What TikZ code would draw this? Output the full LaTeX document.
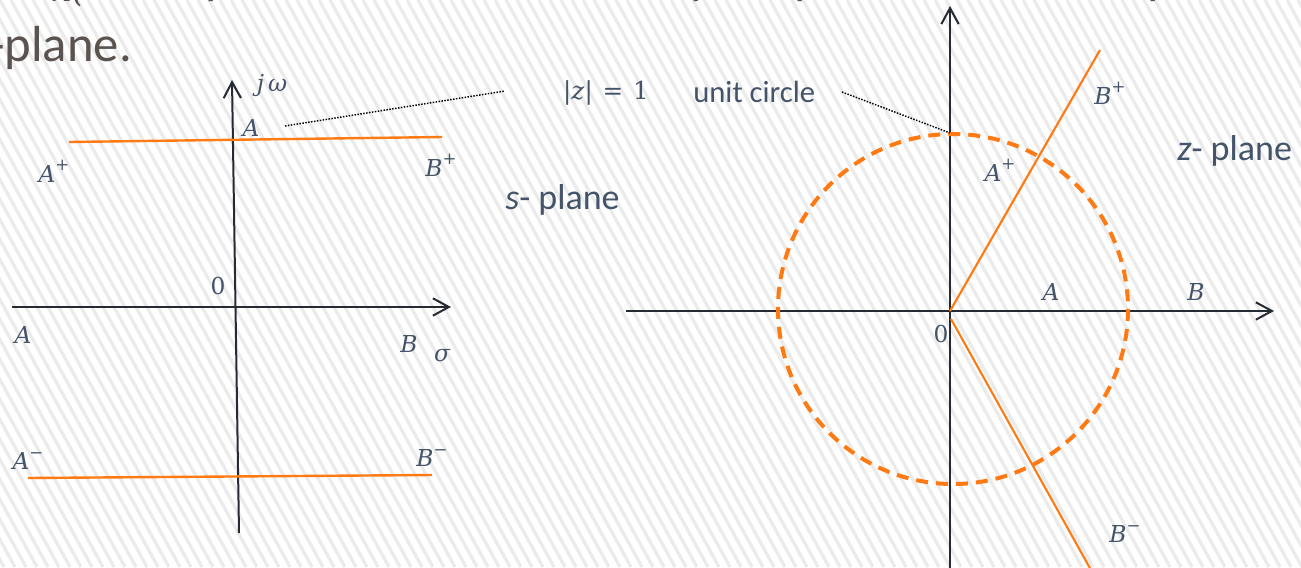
\documentclass[tikz,border=0pt]{standalone}
\usepackage{fontspec}
\setmainfont{Carlito}
\newfontfamily\mathlike{DejaVu Serif}
\usetikzlibrary{arrows.meta}
\definecolor{axiscol}{HTML}{262B33}
\definecolor{orng}{HTML}{FF7A12}
\definecolor{lbl}{HTML}{44546A}
\definecolor{titlecol}{HTML}{5B5350}
\definecolor{stripecol}{HTML}{EBEBEB}
\newcommand{\mysup}[1]{\raisebox{0.5em}{\fontsize{12.5}{13}\selectfont\upshape #1}}
\tikzset{
  stripe/.style={draw=stripecol, line width=2.4pt},
  axis/.style={draw=axiscol, line width=1.5pt},
  axisarrow/.style={axis, -{Straight Barb[length=12pt,width=13pt,line width=1.5pt]}},
  orangeline/.style={draw=orng, line width=1.8pt},
  unitcircle/.style={draw=orng, line width=3pt, dash pattern=on 9pt off 6pt},
  dotline/.style={draw=black, line width=1.1pt, dash pattern=on 1.1pt off 1.1pt},
  mlabel/.style={text=lbl, font=\mathlike\itshape\fontsize{17.5}{20}\selectfont, inner sep=0pt},
  uplabel/.style={text=lbl, font=\mathlike\upshape\fontsize{17.5}{20}\selectfont, inner sep=0pt},
  slabel/.style={text=lbl, font=\fontsize{27}{30}\selectfont, inner sep=0pt, anchor=base west},
  fragment/.style={text=titlecol, font=\fontsize{38}{42}\selectfont, inner sep=0pt, anchor=base west},
}
\begin{document}
\begin{tikzpicture}[x=0.75pt,y=-0.75pt]
\useasboundingbox (0,0) rectangle (1301,567);
\clip (0,0) rectangle (1301,567);
\fill[white] (0,0) rectangle (1301,567);
\foreach \i in {-30,...,120} \draw[stripe] (\i*11,0) -- ++(312,567);

% title fragments (line above is cut off)
\node[fragment] (title) at (-11,62) {-plane.};
\node[fragment, font=\mathlike\itshape\fontsize{26}{28}\selectfont] (frA) at (50,2) {n(};
\node[fragment] (frB) at (205,-6) {p};
\node[fragment] (frC) at (688,-6) {y};
\node[fragment] (frD) at (794,-6) {p};
\node[fragment] (frE) at (1147,-6) {p};

% ---------- s-plane ----------
\coordinate (jwB) at (239,533);
\coordinate (jwT) at (232,80);
\coordinate (sgL) at (12,307);
\coordinate (sgR) at (451,307);
\draw[axisarrow] (jwB) -- (jwT);
\draw[axisarrow] (sgL) -- (sgR);
\coordinate (upL) at (69,142);
\coordinate (upR) at (442,137);
\coordinate (loL) at (28,478);
\coordinate (loR) at (432,475);
\draw[orangeline] (upL) -- (upR);
\draw[orangeline] (loL) -- (loR);

\node[mlabel] (jw) at (272,86) {j\,ω};
\node[mlabel] (Atop) at (251,128) {A};
\node[mlabel] (Ap) at (54,171) {A\mysup{+}};
\node[mlabel] (Bp) at (441,165) {B\mysup{+}};
\node[uplabel] (zero1) at (218,286) {0};
\node[mlabel] (Al) at (23,335) {A};
\node[mlabel] (Br) at (409,344) {B};
\node[mlabel] (sig) at (442,356) {σ};
\node[mlabel] (Am) at (28,461) {A\mysup{−}};
\node[mlabel] (Bm) at (432,458) {B\mysup{−}};

% ---------- middle labels ----------
\node[uplabel, font=\mathlike\upshape\fontsize{18.5}{21}\selectfont] (zeq) at (606,93) {|\textit{z}|\hspace{0.4em}=\hspace{0.4em}1};
\node[text=lbl, font=\fontsize{23}{26}\selectfont, inner sep=0pt, anchor=base west] (uc) at (693,102) {unit circle};
\node[slabel] (splane) at (505,209) {\textit{s}- plane};
\node[slabel] (zplane) at (1177,160) {\textit{z}- plane};

\coordinate (d1s) at (285,126);
\coordinate (d1e) at (505,91);
\draw[dotline] (d1s) -- (d1e);

% ---------- z-plane ----------
\coordinate (O) at (950,311);
\coordinate (imB) at (950,570);
\coordinate (imT) at (950,6);
\coordinate (reL) at (626,311);
\coordinate (reR) at (1274,311);
\draw[axisarrow] (imB) -- (imT);
\draw[axisarrow] (reL) -- (reR);
\draw[unitcircle] (953,309) circle (175);
\coordinate (Bpend) at (1100,50);
\coordinate (Bmst) at (951,319);
\coordinate (Bmend) at (1091,570);
\draw[orangeline, line width=1.6pt] (O) -- (Bpend);
\draw[orangeline, line width=1.6pt] (Bmst) -- (Bmend);
\coordinate (d2s) at (842,92);
\coordinate (d2e) at (950,133);
\draw[dotline] (d2s) -- (d2e);

\node[mlabel] (zBp) at (1110,93) {B\mysup{+}};
\node[mlabel] (zAp) at (1000,170) {A\mysup{+}};
\node[mlabel] (zA) at (1051,292) {A};
\node[mlabel] (zB) at (1196,292) {B};
\node[uplabel] (zzero) at (941,334) {0};
\node[mlabel] (zBm) at (1125,534) {B\mysup{−}};
\end{tikzpicture}
\end{document}
